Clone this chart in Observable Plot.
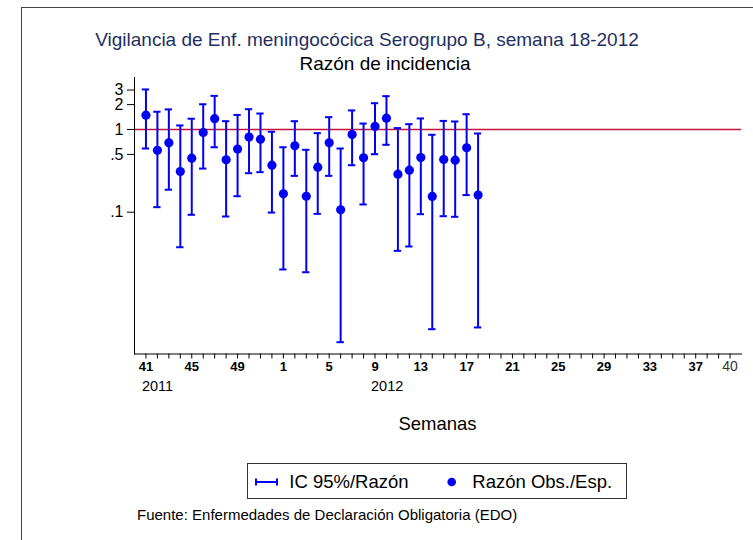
<!DOCTYPE html>
<html>
<head>
<meta charset="utf-8">
<script src="https://cdn.jsdelivr.net/npm/d3@7"></script>
<script src="https://cdn.jsdelivr.net/npm/@observablehq/plot@0.6"></script>
<style>
  html, body { margin: 0; padding: 0; background: #fff; }
  body { width: 753px; height: 540px; overflow: hidden; position: relative; font-family: "Liberation Sans", Arial, sans-serif; }
  .abs { position: absolute; white-space: nowrap; line-height: 1; }
  #frame { position: absolute; left: 21px; top: 7px; width: 900px; height: 700px; border: 1.5px solid #444; box-sizing: border-box; }
  #chart { position: absolute; left: 0; top: 0; }
  #legend { position: absolute; left: 247px; top: 463px; width: 380px; height: 36px; border: 1px solid #333; box-sizing: border-box; }
</style>
</head>
<body>
<div id="frame"></div>
<div id="chart"></div>
<div class="abs" style="left:0;width:734px;text-align:center;top:29.9px;font-size:19px;color:#1f2f5f;">Vigilancia de Enf. meningocócica Serogrupo B, semana 18-2012</div>
<div class="abs" style="left:185px;width:400px;text-align:center;top:53.9px;font-size:19px;color:#000;">Razón de incidencia</div>
<div class="abs" style="left:237.5px;width:400px;text-align:center;top:415.3px;font-size:18.5px;color:#000;">Semanas</div>
<div id="legend"></div>
<div class="abs" style="left:137px;top:507.3px;font-size:15px;color:#000;">Fuente: Enfermedades de Declaración Obligatoria (EDO)</div>
<script>
// ---- Data ----
const semanas = [41,42,43,44,45,46,47,48,49,50,51,52,1,2,3,4,5,6,7,8,9,10,11,12,13,14,15,16,17,18];
const anios   = [2011,2011,2011,2011,2011,2011,2011,2011,2011,2011,2011,2011,
                 2012,2012,2012,2012,2012,2012,2012,2012,2012,2012,2012,2012,2012,2012,2012,2012,2012,2012];
const razon = [1.49, 0.56, 0.69, 0.31, 0.45, 0.92, 1.35, 0.43, 0.58, 0.81, 0.76, 0.37, 0.167, 0.635, 0.156,
               0.35, 0.69, 0.107, 0.87, 0.454, 1.09, 1.37, 0.288, 0.322, 0.458, 0.155, 0.434, 0.426, 0.60, 0.161];
const icSup = [3.05, 1.64, 1.75, 1.12, 1.35, 2.02, 2.55, 1.26, 1.50, 1.76, 1.56, 0.94, 0.61, 1.26, 0.568,
               0.903, 1.41, 0.589, 1.70, 1.18, 2.08, 2.53, 1.04, 1.16, 1.36, 0.863, 1.27, 1.25, 1.53, 0.895];
const icInf = [0.589, 0.115, 0.187, 0.0377, 0.093, 0.337, 0.61, 0.0887, 0.156, 0.296, 0.305, 0.099, 0.0203, 0.275, 0.0188,
               0.0955, 0.275, 0.00268, 0.37, 0.124, 0.503, 0.653, 0.0341, 0.0385, 0.0946, 0.00385, 0.0895, 0.088, 0.161, 0.00404];

const etiquetasSemana = [41,45,49,1,5,9,13,17,21,25,29,33,37];
const etiquetasAnioSem = [2011,2011,2011,2012,2012,2012,2012,2012,2012,2012,2012,2012,2012];
const etiquetaFinal = {anio: 2012, semana: 40};
const etiquetasAnio = [{anio: 2011, semana: 41, text: "2011"}, {anio: 2012, semana: 9, text: "2012"}];
const yTicks = [3, 2, 1, 0.5, 0.1];
const yTickLabels = ["3", "2", "1", ".5", ".1"];

// position of a week on the axis (week 41 of 2011 = 0)
const pos = (anio, semana) => (anio - 2011) * 52 + semana - 41;

const datos = semanas.map((s, i) => ({x: pos(anios[i], s), r: razon[i], lo: icInf[i], hi: icSup[i]}));
const etiquetas = etiquetasSemana.map((s, i) => ({x: pos(etiquetasAnioSem[i], s), text: String(s)}));
const tickPos = d3.range(pos(2011, 41), pos(2012, 40) + 1);
const yAxisData = yTicks.map((v, i) => ({v, label: yTickLabels[i]}));

const blue = "#0000f5";
const capHalf = 0.32;
const xMin = -1;
const yTickLen = 7 / 11.45; // tick length expressed in week units

const plot = Plot.plot({
  width: 753,
  height: 540,
  marginLeft: 134,
  marginRight: 12,
  marginTop: 77,
  marginBottom: 186.5,
  style: {fontFamily: "'Liberation Sans', Arial, sans-serif", background: "transparent", color: "#000"},
  x: {domain: [xMin, 52], axis: null, label: null},
  y: {type: "log", domain: [Math.pow(10, -2.7146), Math.pow(10, 0.6288)], axis: null, label: null},
  marks: [
    Plot.ruleY([1], {stroke: "#c4123a", strokeWidth: 1.7}),
    Plot.frame({anchor: "left", stroke: "#000", strokeWidth: 1}),
    Plot.frame({anchor: "bottom", stroke: "#000", strokeWidth: 1}),
    // y axis ticks and labels
    Plot.ruleY(yAxisData, {y: "v", x1: xMin - yTickLen, x2: xMin, stroke: "#000", strokeWidth: 1}),
    Plot.text(yAxisData, {y: "v", text: "label", frameAnchor: "left", textAnchor: "end", dx: -11, fontSize: 16, fill: "#000"}),
    // x axis ticks and labels
    Plot.axisX({ticks: tickPos, tickFormat: () => "", tickSize: 5, anchor: "bottom", label: null}),
    Plot.text(etiquetas, {x: "x", text: "text", frameAnchor: "bottom", dy: 16.6, fontWeight: "bold", fontSize: 13, fill: "#000"}),
    Plot.text([etiquetaFinal], {x: d => pos(d.anio, d.semana), text: d => String(d.semana), frameAnchor: "bottom", dy: 16.6, fontSize: 14, fill: "#333"}),
    Plot.text(etiquetasAnio, {x: d => pos(d.anio, d.semana), text: "text", frameAnchor: "bottom", textAnchor: "start", dx: -4, dy: 37, fontSize: 14.5, fill: "#000"}),
    // data
    Plot.ruleX(datos, {x: "x", y1: "lo", y2: "hi", stroke: blue, strokeWidth: 2}),
    Plot.ruleY(datos, {y: "lo", x1: d => d.x - capHalf, x2: d => d.x + capHalf, stroke: blue, strokeWidth: 2}),
    Plot.ruleY(datos, {y: "hi", x1: d => d.x - capHalf, x2: d => d.x + capHalf, stroke: blue, strokeWidth: 2}),
    Plot.dot(datos, {x: "x", y: "r", r: 4.6, fill: blue, stroke: "none"})
  ]
});
document.getElementById("chart").appendChild(plot);

// ---- Legend ----
const legend = document.getElementById("legend");
legend.innerHTML = `
  <svg width="378" height="34" style="position:absolute;left:0;top:0">
    <line x1="7" x2="30" y1="18" y2="18" stroke="${blue}" stroke-width="2"/>
    <line x1="8" x2="8" y1="14.6" y2="21.4" stroke="${blue}" stroke-width="2"/>
    <line x1="29" x2="29" y1="14.6" y2="21.4" stroke="${blue}" stroke-width="2"/>
    <circle cx="203.7" cy="18" r="4.3" fill="${blue}"/>
  </svg>
  <div class="abs" style="left:41.3px;top:9px;font-size:18.5px;color:#000;">IC 95%/Razón</div>
  <div class="abs" style="left:224.3px;top:9px;font-size:18.5px;color:#000;">Razón Obs./Esp.</div>
`;
</script>
</body>
</html>
